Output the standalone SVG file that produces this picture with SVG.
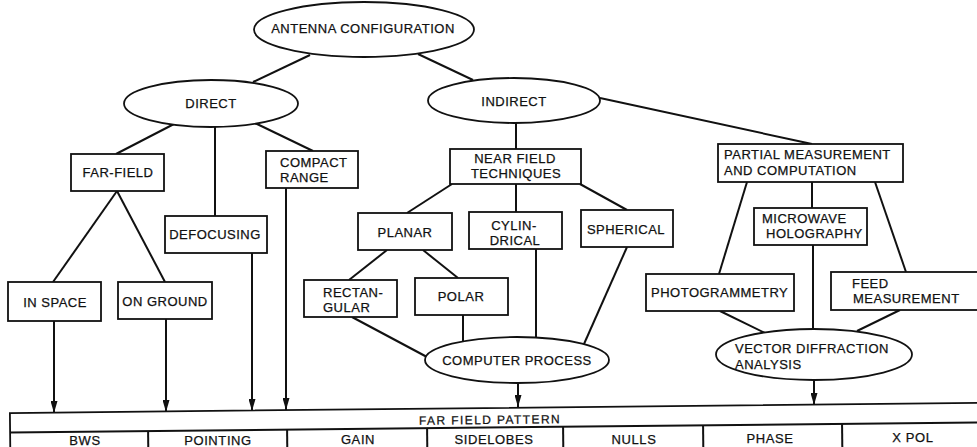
<svg xmlns="http://www.w3.org/2000/svg" width="977" height="447" viewBox="0 0 977 447">
<style>
  .box { fill: #fff; stroke: #111; stroke-width: 1.8; }
  .ell { fill: #fff; stroke: #111; stroke-width: 1.8; }
  .ln { fill: none; stroke: #111; stroke-width: 2; }
  .ar { fill: none; stroke: #111; stroke-width: 2; marker-end: url(#arrow); }
  text { font-family: "Liberation Sans", Arial, sans-serif; font-size: 13px; fill: #111; stroke: #111; stroke-width: 0.25; letter-spacing: 0.5px; }
  .c { text-anchor: middle; }
  .bar { font-size: 12px; letter-spacing: 1.4px; }
  .cell { font-size: 13px; letter-spacing: 0.6px; text-anchor: middle; }
</style>
<defs>
  <marker id="arrow" markerUnits="userSpaceOnUse" markerWidth="12" markerHeight="7" refX="12" refY="3.5" orient="auto">
    <path d="M0,0 L12,3.5 L0,7 Z" fill="#111"/>
  </marker>
</defs>
<rect x="0" y="0" width="977" height="447" fill="#fff"/>

<g id="connectors">
  <line class="ln" x1="310" y1="55" x2="253" y2="82"/>
  <line class="ln" x1="418" y1="54" x2="473" y2="80"/>
  <line class="ln" x1="174" y1="124" x2="116" y2="154"/>
  <line class="ln" x1="215" y1="127" x2="215" y2="216"/>
  <line class="ln" x1="255" y1="123" x2="313" y2="151"/>
  <line class="ln" x1="117" y1="191" x2="53" y2="282"/>
  <line class="ln" x1="117" y1="191" x2="165" y2="282"/>
  <line class="ar" x1="54" y1="321" x2="54" y2="413"/>
  <line class="ar" x1="166" y1="319" x2="166" y2="412"/>
  <line class="ar" x1="252" y1="253" x2="252" y2="411"/>
  <line class="ar" x1="286" y1="188" x2="286" y2="410"/>
  <line class="ln" x1="516" y1="123" x2="516" y2="149"/>
  <line class="ln" x1="600" y1="98" x2="812" y2="144"/>
  <line class="ln" x1="452" y1="184" x2="407" y2="213"/>
  <line class="ln" x1="516" y1="184" x2="516" y2="212"/>
  <line class="ln" x1="580" y1="184" x2="627" y2="210"/>
  <line class="ln" x1="387" y1="250" x2="349" y2="280"/>
  <line class="ln" x1="423" y1="250" x2="458" y2="278"/>
  <line class="ln" x1="352" y1="317" x2="427" y2="357"/>
  <line class="ln" x1="463" y1="315" x2="463" y2="342"/>
  <line class="ln" x1="536" y1="249" x2="536" y2="338"/>
  <line class="ln" x1="627" y1="247" x2="584" y2="344"/>
  <line class="ar" x1="518" y1="383" x2="518" y2="407"/>
  <line class="ln" x1="747" y1="182" x2="719" y2="274"/>
  <line class="ln" x1="812" y1="182" x2="812" y2="208"/>
  <line class="ln" x1="875" y1="182" x2="906" y2="272"/>
  <line class="ln" x1="813" y1="245" x2="813" y2="329"/>
  <line class="ln" x1="720" y1="311" x2="765" y2="333"/>
  <line class="ln" x1="900" y1="310" x2="857" y2="331"/>
  <line class="ar" x1="814" y1="380" x2="814" y2="405"/>
</g>

<g id="antenna-configuration">
  <ellipse class="ell" cx="364" cy="29.5" rx="110" ry="27.5"/>
  <text class="c" x="363" y="33">ANTENNA CONFIGURATION</text>
</g>
<g id="direct">
  <ellipse class="ell" cx="211" cy="103.5" rx="87" ry="23.5"/>
  <text class="c" x="211" y="108">DIRECT</text>
</g>
<g id="indirect">
  <ellipse class="ell" cx="514" cy="100.5" rx="86" ry="22.5"/>
  <text class="c" x="514" y="106">INDIRECT</text>
</g>
<g id="far-field">
  <rect class="box" x="71" y="154" width="93" height="37"/>
  <text class="c" x="118" y="177">FAR-FIELD</text>
</g>
<g id="compact-range">
  <rect class="box" x="266" y="151" width="92" height="37"/>
  <text x="280" y="167">COMPACT</text>
  <text x="280" y="182">RANGE</text>
</g>
<g id="defocusing">
  <rect class="box" x="165" y="216" width="102" height="37"/>
  <text class="c" x="215" y="239">DEFOCUSING</text>
</g>
<g id="in-space">
  <rect class="box" x="8" y="282" width="93" height="39"/>
  <text class="c" x="55" y="307">IN SPACE</text>
</g>
<g id="on-ground">
  <rect class="box" x="118" y="282" width="94" height="37"/>
  <text class="c" x="165" y="306">ON GROUND</text>
</g>
<g id="near-field-techniques">
  <rect class="box" x="450" y="149" width="131" height="35"/>
  <text class="c" x="515" y="163">NEAR FIELD</text>
  <text class="c" x="516" y="178">TECHNIQUES</text>
</g>
<g id="planar">
  <rect class="box" x="358" y="213" width="94" height="37"/>
  <text class="c" x="405" y="237">PLANAR</text>
</g>
<g id="cylindrical">
  <rect class="box" x="469" y="212" width="93" height="37"/>
  <text class="c" x="514" y="230">CYLIN-</text>
  <text class="c" x="515" y="245">DRICAL</text>
</g>
<g id="spherical">
  <rect class="box" x="581" y="210" width="92" height="37"/>
  <text class="c" x="626" y="234">SPHERICAL</text>
</g>
<g id="rectangular">
  <rect class="box" x="304" y="280" width="93" height="37"/>
  <text x="323" y="297">RECTAN-</text>
  <text x="323" y="312">GULAR</text>
</g>
<g id="polar">
  <rect class="box" x="415" y="278" width="93" height="37"/>
  <text class="c" x="461" y="301">POLAR</text>
</g>
<g id="computer-process">
  <ellipse class="ell" cx="517" cy="360" rx="92" ry="23"/>
  <text class="c" x="517" y="365">COMPUTER PROCESS</text>
</g>
<g id="partial-measurement">
  <rect class="box" x="718" y="144" width="185" height="38"/>
  <text x="724" y="159">PARTIAL MEASUREMENT</text>
  <text x="724" y="175">AND COMPUTATION</text>
</g>
<g id="microwave-holography">
  <rect class="box" x="754" y="208" width="113" height="37"/>
  <text x="762" y="223">MICROWAVE</text>
  <text x="766" y="238">HOLOGRAPHY</text>
</g>
<g id="photogrammetry">
  <rect class="box" x="646" y="274" width="148" height="37"/>
  <text x="651" y="297">PHOTOGRAMMETRY</text>
</g>
<g id="feed-measurement">
  <rect class="box" x="831" y="272" width="150" height="38"/>
  <text x="852" y="288">FEED</text>
  <text x="853" y="303">MEASUREMENT</text>
</g>
<g id="vector-diffraction-analysis">
  <ellipse class="ell" cx="814" cy="354.5" rx="98" ry="25.5"/>
  <text x="735" y="353">VECTOR DIFFRACTION</text>
  <text x="735" y="369">ANALYSIS</text>
</g>

<g id="far-field-pattern">
  <g transform="rotate(-0.6 490 420)">
    <rect class="box" x="10" y="408" width="990" height="50"/>
    <line class="ln" x1="10" y1="427.5" x2="1000" y2="427.5" stroke-width="1.8"/>
    <line class="ln" x1="148" y1="427.5" x2="148" y2="455" stroke-width="1.8"/>
    <line class="ln" x1="287" y1="427.5" x2="287" y2="455" stroke-width="1.8"/>
    <line class="ln" x1="427" y1="427.5" x2="427" y2="455" stroke-width="1.8"/>
    <line class="ln" x1="563" y1="427.5" x2="563" y2="455" stroke-width="1.8"/>
    <line class="ln" x1="703" y1="427.5" x2="703" y2="455" stroke-width="1.8"/>
    <line class="ln" x1="842" y1="427.5" x2="842" y2="455" stroke-width="1.8"/>
    <text class="bar" x="419" y="424">FAR FIELD PATTERN</text>
  </g>
  <text class="cell" x="85" y="445">BWS</text>
  <text class="cell" x="218" y="445">POINTING</text>
  <text class="cell" x="358" y="444">GAIN</text>
  <text class="cell" x="494" y="444">SIDELOBES</text>
  <text class="cell" x="634" y="444">NULLS</text>
  <text class="cell" x="770" y="443">PHASE</text>
  <text class="cell" x="913" y="442">X POL</text>
</g>
</svg>
